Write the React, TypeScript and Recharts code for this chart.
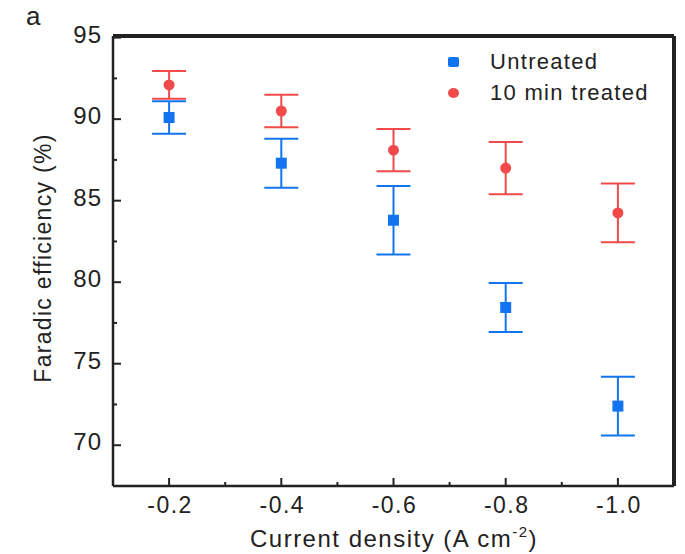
import {
  ScatterChart,
  Scatter,
  XAxis,
  YAxis,
  ErrorBar,
  ReferenceLine,
} from "recharts";

const currentDensity = [-0.2, -0.4, -0.6, -0.8, -1.0];
const untreatedFE = [90.1, 87.3, 83.8, 78.45, 72.4];
const untreatedErr = [1.0, 1.5, 2.1, 1.5, 1.8];
const treatedFE = [92.1, 90.5, 88.1, 87.0, 84.25];
const treatedErr = [0.85, 1.0, 1.3, 1.6, 1.8];

const xMajorTicks = [-0.2, -0.4, -0.6, -0.8, -1.0];
const xMinorTicks = [-0.3, -0.5, -0.7, -0.9];
const yMajorTicks = [70, 75, 80, 85, 90, 95];
const yMinorTicks = [72.5, 77.5, 82.5, 87.5, 92.5];

const xDomain = [-1.1, -0.1];
const yDomain = [67.5, 95.1];

const blue = "#1274f0";
const red = "#f24a4a";
const ink = "#222222";
const font = "'Liberation Sans', Arial, sans-serif";

const untreatedData = currentDensity.map((x, i) => ({
  x,
  y: untreatedFE[i],
  err: untreatedErr[i],
}));
const treatedData = currentDensity.map((x, i) => ({
  x,
  y: treatedFE[i],
  err: treatedErr[i],
}));

const legendItems = [
  { name: "Untreated", color: blue, shape: "square" },
  { name: "10 min treated", color: red, shape: "circle" },
];

const isMajor = (list: number[], v: number) =>
  list.some((t) => Math.abs(t - v) < 1e-6);

function XTick(props: any) {
  const { x, y, payload } = props;
  const major = isMajor(xMajorTicks, payload.value);
  return (
    <g>
      <line x1={x} x2={x} y1={y} y2={y - (major ? 8 : 4)} stroke={ink} strokeWidth={2} />
      {major && (
        <text
          x={x + 1}
          y={y + 27}
          textAnchor="middle"
          fontSize={23}
          letterSpacing={1.5}
          fontFamily={font}
          fill={ink}
        >
          {payload.value.toFixed(1)}
        </text>
      )}
    </g>
  );
}

function YTick(props: any) {
  const { x, y, payload } = props;
  const major = isMajor(yMajorTicks, payload.value);
  return (
    <g>
      <line x1={x} x2={x + (major ? 8 : 4)} y1={y} y2={y} stroke={ink} strokeWidth={2} />
      {major && (
        <text
          x={x - 11}
          y={y + 5}
          textAnchor="end"
          fontSize={24}
          letterSpacing={1}
          fontFamily={font}
          fill={ink}
        >
          {payload.value}
        </text>
      )}
    </g>
  );
}

const SquareDot = (props: any) => (
  <rect x={props.cx - 5.5} y={props.cy - 5.5} width={11} height={11} fill={blue} />
);
const CircleDot = (props: any) => (
  <circle cx={props.cx} cy={props.cy} r={5.5} fill={red} />
);

export default function App() {
  return (
    <div style={{ position: "absolute", left: 0, top: 0, width: 685, height: 554, background: "#fff" }}>
      <div
        style={{
          position: "absolute",
          left: 26,
          top: 0,
          fontFamily: font,
          fontSize: 26,
          lineHeight: "32px",
          color: ink,
        }}
      >
        a
      </div>
      <ScatterChart
        width={685}
        height={554}
        margin={{ top: 36, right: 11, bottom: 0, left: 0 }}
      >
        <XAxis
          type="number"
          dataKey="x"
          domain={xDomain}
          reversed
          allowDataOverflow
          ticks={[...xMajorTicks, ...xMinorTicks]}
          interval={0}
          tickSize={0}
          tickMargin={0}
          tickLine={false}
          tick={<XTick />}
          axisLine={{ stroke: ink, strokeWidth: 2.5 }}
          height={68}
          label={() => (
            <text
              x={394}
              y={547}
              textAnchor="middle"
              fontSize={24}
              letterSpacing={1.5}
              fontFamily={font}
              fill={ink}
            >
              Current density (A cm
              <tspan dy={-10} fontSize={15}>-2</tspan>
              <tspan dy={10}>)</tspan>
            </text>
          )}
        />
        <YAxis
          type="number"
          dataKey="y"
          domain={yDomain}
          allowDataOverflow
          ticks={[...yMajorTicks, ...yMinorTicks]}
          interval={0}
          tickSize={0}
          tickMargin={0}
          tickLine={false}
          tick={<YTick />}
          axisLine={{ stroke: ink, strokeWidth: 2.5 }}
          width={113}
          label={() => (
            <text
              x={51}
              y={258}
              textAnchor="middle"
              fontSize={23}
              letterSpacing={1.3}
              fontFamily={font}
              fill={ink}
              transform="rotate(-90 51 258)"
            >
              Faradic efficiency (%)
            </text>
          )}
        />
        {/* frame edges sit on the plot clip, so half the stroke is hidden */}
        <ReferenceLine x={xDomain[0]} stroke={ink} strokeWidth={4} ifOverflow="visible" />
        <ReferenceLine y={yDomain[1]} stroke={ink} strokeWidth={4} ifOverflow="visible" />
        <Scatter
          name="Untreated"
          data={untreatedData}
          fill={blue}
          shape={SquareDot}
          isAnimationActive={false}
        >
          <ErrorBar dataKey="err" direction="y" width={17} stroke={blue} strokeWidth={2} />
        </Scatter>
        <Scatter
          name="10 min treated"
          data={treatedData}
          fill={red}
          shape={CircleDot}
          isAnimationActive={false}
        >
          <ErrorBar dataKey="err" direction="y" width={17} stroke={red} strokeWidth={2} />
        </Scatter>
      </ScatterChart>
      <div
        style={{
          position: "absolute",
          left: 448,
          top: 46,
          fontFamily: font,
          fontSize: 22,
          letterSpacing: 1.3,
          color: ink,
        }}
      >
        {legendItems.map((item) => (
          <div
            key={item.name}
            style={{ display: "flex", alignItems: "center", height: 31 }}
          >
            <span
              style={{
                display: "inline-block",
                width: 11,
                height: 10,
                background: item.color,
                borderRadius: item.shape === "circle" ? "50%" : 2,
                marginRight: 31,
              }}
            />
            <span>{item.name}</span>
          </div>
        ))}
      </div>
    </div>
  );
}
